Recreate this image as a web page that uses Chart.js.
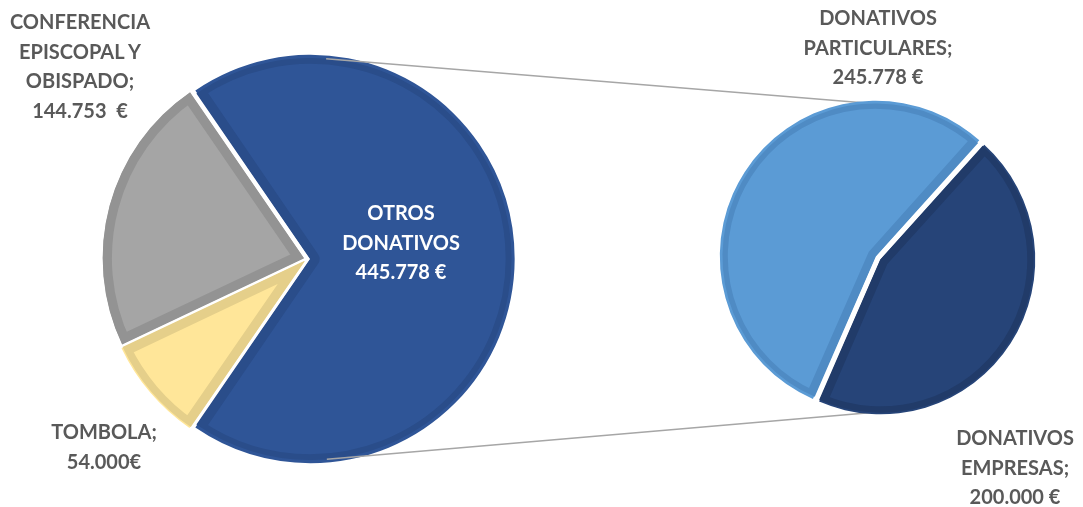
<!DOCTYPE html>
<html>
<head>
<meta charset="utf-8">
<script src="https://cdn.jsdelivr.net/npm/chart.js@4/dist/chart.umd.min.js"></script>
<style>
  html, body { margin: 0; padding: 0; background: #fff; }
  #wrap { position: relative; width: 1083px; height: 507px; overflow: hidden; }
  canvas { position: absolute; left: 0; top: 0; }
  .lbl {
    position: absolute; text-align: center; white-space: pre;
    font-family: "Lato", "Open Sans", sans-serif;
    font-weight: bold; font-size: 20px; line-height: 29.5px; color: #595959;
    transform: translateX(-50%);
  }
  .lbl.in { color: #ffffff; }
</style>
</head>
<body>
<div id="wrap">
  <canvas id="mainPie" width="1083" height="507"></canvas>
  <canvas id="subPie" width="1083" height="507"></canvas>
</div>
<script>
// main pie: "otros donativos" is split out into the second pie
const mainCategories = ['OTROS DONATIVOS', 'TOMBOLA', 'CONFERENCIA EPISCOPAL Y OBISPADO'];
const mainValues = [445778, 54000, 144753];
const mainValueText = ['445.778 €', '54.000€', '144.753  €'];

const subCategories = ['DONATIVOS EMPRESAS', 'DONATIVOS PARTICULARES'];
const subValues = [200000, 245778];
const subValueText = ['200.000 €', '245.778 €'];

const mainColors = ['#2F5597', '#FFE699', '#A5A5A5'];
const mainBorders = ['#2A4D8A', '#E5CF8A', '#939393'];
const subColors = ['#264478', '#5B9BD5'];
const subBorders = ['#213B69', '#4F8BC4'];

// the split slice sits centred on 3 o'clock
const total = mainValues.reduce((a, b) => a + b, 0);
const mainRotation = 90 - (mainValues[0] / total) * 180;

const common = {
  responsive: false,
  animation: false,
  events: [],
  plugins: { legend: { display: false }, tooltip: { enabled: false } }
};

const mainChart = new Chart(document.getElementById('mainPie'), {
  type: 'pie',
  data: {
    labels: mainCategories,
    datasets: [{
      data: mainValues,
      backgroundColor: mainColors,
      borderColor: mainBorders,
      borderWidth: 9,
      borderAlign: 'inner',
      offset: 14,
      spacing: 0
    }]
  },
  options: Object.assign({}, common, {
    rotation: mainRotation,
    radius: 201,
    layout: { padding: { left: 0, right: 469, top: 11, bottom: 0 } }
  })
});

// connector lines from the first pie to the top/bottom of the second
const connectors = {
  id: 'connectors',
  beforeDatasetsDraw(chart) {
    const a = mainChart.getDatasetMeta(0).data[0];
    const b = chart.getDatasetMeta(0).data[0];
    if (!a || !b) return;
    const ctx = chart.ctx;
    ctx.save();
    ctx.strokeStyle = '#A6A6A6';
    ctx.lineWidth = 1.5;
    [-1, 1].forEach(s => {
      const tx = b.x, ty = b.y + s * (b.outerRadius + 1);
      // tangent point on the first pie
      const ang = Math.atan2(ty - (a.y + s * a.outerRadius), tx - a.x);
      const px = a.x + 3 - s * Math.sin(ang) * a.outerRadius;
      const py = a.y + s * Math.cos(ang) * a.outerRadius;
      ctx.beginPath();
      ctx.moveTo(px, py);
      ctx.lineTo(tx, ty);
      ctx.stroke();
    });
    ctx.restore();
  }
};

const subChart = new Chart(document.getElementById('subPie'), {
  type: 'pie',
  data: {
    labels: subCategories,
    datasets: [{
      data: subValues,
      backgroundColor: subColors,
      borderColor: subBorders,
      borderWidth: 8,
      borderAlign: 'inner',
      offset: 12,
      spacing: 0
    }]
  },
  options: Object.assign({}, common, {
    rotation: 42,
    radius: 153,
    layout: { padding: { left: 673, right: 0, top: 9, bottom: 0 } }
  }),
  plugins: [connectors]
});

// data labels
const wrap = document.getElementById('wrap');
function addLabel(lines, x, y, inside) {
  const d = document.createElement('div');
  d.className = 'lbl' + (inside ? ' in' : '');
  d.textContent = lines.join('\n');
  d.style.left = x + 'px';
  d.style.top = y + 'px';
  wrap.appendChild(d);
}
addLabel(['OTROS', 'DONATIVOS', mainValueText[0]], 401, 198, true);
addLabel(['TOMBOLA;', mainValueText[1]], 104, 417, false);
addLabel(['CONFERENCIA', 'EPISCOPAL Y', 'OBISPADO;', mainValueText[2]], 80, 7, false);
addLabel(['DONATIVOS', 'EMPRESAS;', subValueText[0]], 1015, 423, false);
addLabel(['DONATIVOS', 'PARTICULARES;', subValueText[1]], 878, 3, false);
</script>
</body>
</html>
